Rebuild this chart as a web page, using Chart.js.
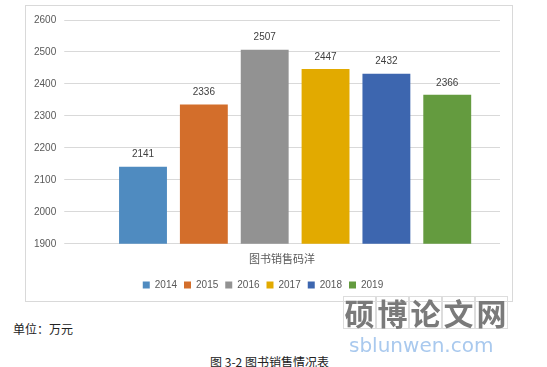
<!DOCTYPE html>
<html><head><meta charset="utf-8">
<script src="https://cdn.jsdelivr.net/npm/chart.js@4.4.0/dist/chart.umd.min.js"></script>
<style>
html,body{margin:0;padding:0;background:#fff;width:547px;height:367px;overflow:hidden;position:relative;font-family:"Noto Sans CJK SC",sans-serif;}
#box{position:absolute;left:25px;top:5px;width:488px;height:297px;border:1px solid #d9d9d9;box-sizing:border-box;}
#box canvas{position:absolute;left:0;top:0;}
#unit{position:absolute;left:13px;top:320px;font-size:12px;color:#222;}
#cap{position:absolute;left:0;width:539px;text-align:center;top:353px;font-size:12px;color:#222;}
#wm{position:absolute;left:343px;top:296px;display:flex;}
#wm span{display:block;width:33px;height:33px;border:1px solid #ddd;box-sizing:border-box;font-size:30px;line-height:31px;text-align:center;color:#7a7a7a;font-weight:bold;}
#wm2{position:absolute;left:349px;top:333px;font-size:20px;color:#a9c9ee;font-family:"DejaVu Sans",sans-serif;letter-spacing:0px;}
</style></head>
<body>
<div id="box"><canvas id="c" width="486" height="295"></canvas></div>
<div id="unit">单位：万元</div>
<div id="cap">图 3-2 图书销售情况表</div>
<div id="wm"><span>硕</span><span>博</span><span>论</span><span>文</span><span>网</span></div>
<div id="wm2">sblunwen.com</div>
<script>
const categories = ['图书销售码洋'];
const years = ['2014','2015','2016','2017','2018','2019'];
const values = [2141, 2336, 2507, 2447, 2432, 2366];
const colors = ['#4F8BC0','#D36E2B','#929292','#E2AA00','#3D66AF','#649B3F'];
const yTicks = [1900,2000,2100,2200,2300,2400,2500,2600];

const valueLabels = {
  id:'valueLabels',
  afterDatasetsDraw(chart){
    const ctx = chart.ctx;
    ctx.save();
    ctx.font = '10px "Liberation Sans", sans-serif';
    ctx.fillStyle = '#404040';
    ctx.textAlign = 'center';
    ctx.textBaseline = 'bottom';
    chart.data.datasets.forEach((ds,i)=>{
      const meta = chart.getDatasetMeta(i);
      meta.data.forEach((bar,j)=>{
        ctx.fillText(String(ds.data[j]), bar.x, bar.y - 7);
      });
    });
    ctx.restore();
  }
};

new Chart(document.getElementById('c'), {
  type:'bar',
  data:{
    labels: categories,
    datasets: years.map((y,i)=>({label:y, data:[values[i]], backgroundColor:colors[i], borderWidth:0}))
  },
  options:{
    responsive:false,
    animation:false,
    categoryPercentage:0.891,
    barPercentage:0.787,
    layout:{padding:{left:0,right:12,top:14,bottom:1}},
    plugins:{
      legend:{position:'bottom',labels:{boxWidth:7,boxHeight:7,padding:7,color:'#595959',font:{size:10,family:'"Liberation Sans", sans-serif'}}},
      tooltip:{enabled:false}
    },
    scales:{
      x:{
        grid:{display:false,drawTicks:false},
        border:{display:false},
        ticks:{padding:8,labelOffset:-13,color:'#595959',font:{size:11,family:'"Noto Sans CJK SC", sans-serif'}}
      },
      y:{
        min:1900,max:2600,
        afterBuildTicks(axis){ axis.ticks = yTicks.map(v=>({value:v})); },
        grid:{color:'#d9d9d9',tickLength:26,tickColor:'#d9d9d9'},
        border:{display:false},
        ticks:{padding:8,color:'#595959',font:{size:10,family:'"Liberation Sans", sans-serif'},callback:(v)=>String(v)}
      }
    }
  },
  plugins:[valueLabels]
});
</script>
</body></html>
